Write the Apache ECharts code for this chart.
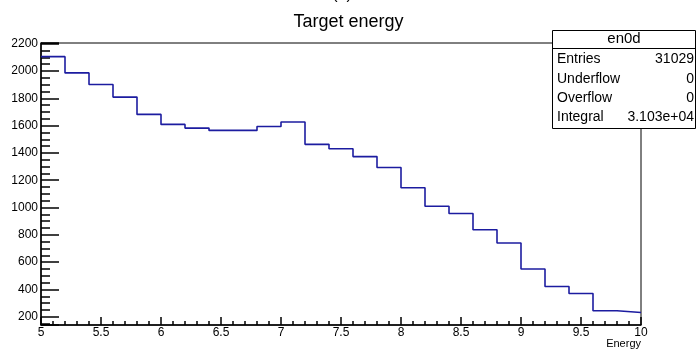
<!DOCTYPE html>
<html>
<head>
<meta charset="utf-8">
<script src="https://cdn.jsdelivr.net/npm/echarts@6/dist/echarts.min.js"></script>
<style>
  html, body { margin: 0; padding: 0; background: #fff; }
  #main { width: 697px; height: 351px; }
</style>
</head>
<body>
<div id="main"></div>
<script>
// bin edges (left edge of each 0.2 wide bin) and bin contents
var binEdges = [5.0, 5.2, 5.4, 5.6, 5.8, 6.0, 6.2, 6.4, 6.6, 6.8, 7.0, 7.2, 7.4,
                7.6, 7.8, 8.0, 8.2, 8.4, 8.6, 8.8, 9.0, 9.2, 9.4, 9.6, 9.8, 10.0];
var counts = [2105, 1986, 1901, 1809, 1682, 1609, 1582, 1565, 1565, 1594, 1626, 1463, 1431,
              1373, 1293, 1145, 1010, 957, 838, 740, 550, 422, 371, 244, 232];

var statLabels = ['Entries', 'Underflow', 'Overflow', 'Integral'];
var statValues = ['31029', '0', '0', '3.103e+04'];

// step line points: one per bin plus the closing edge
var pts = [];
for (var i = 0; i < counts.length; i++) {
  pts.push([binEdges[i], counts[i]]);
}
pts.push([binEdges[counts.length], counts[counts.length - 1]]);

var chart = echarts.init(document.getElementById('main'));

var fam = 'Liberation Sans, Arial, sans-serif';

// stat box + loose texts
var gfx = [
  { type: 'text', x: 342, y: -13,
    style: { text: '(d)', font: '16px "Liberation Sans"', fill: '#000', align: 'center' } },
  { type: 'text', x: 641, y: 344,
    style: { text: 'Energy', font: '11px "Liberation Sans"', fill: '#000', align: 'right', verticalAlign: 'middle' } },
  { type: 'rect', shape: { x: 552.5, y: 30.5, width: 143, height: 98 },
    style: { fill: '#fff', stroke: '#000', lineWidth: 1 }, z: 100 },
  { type: 'line', shape: { x1: 552.5, y1: 48.5, x2: 695.5, y2: 48.5 },
    style: { stroke: '#000', lineWidth: 1 }, z: 101 },
  { type: 'text', x: 624, y: 39, z: 101,
    style: { text: 'en0d', font: '15px "Liberation Sans"', fill: '#000', align: 'center', verticalAlign: 'middle' } }
];
var rowY = [59, 79, 98, 117];
for (var k = 0; k < statLabels.length; k++) {
  gfx.push({ type: 'text', x: 557, y: rowY[k], z: 101,
    style: { text: statLabels[k], font: '14px "Liberation Sans"', fill: '#000', verticalAlign: 'middle' } });
  gfx.push({ type: 'text', x: 694, y: rowY[k], z: 101,
    style: { text: statValues[k], font: '14px "Liberation Sans"', fill: '#000', align: 'right', verticalAlign: 'middle' } });
}

var option = {
  animation: false,
  title: {
    text: 'Target energy',
    left: 'center',
    top: 8,
    textStyle: { fontFamily: fam, fontSize: 18, fontWeight: 'normal', color: '#000' }
  },
  grid: {
    left: 41, right: 56, top: 43, bottom: 26,
    show: true, borderColor: '#000', borderWidth: 1
  },
  xAxis: {
    type: 'value',
    min: 5, max: 10, interval: 0.5,
    axisLine: { lineStyle: { color: '#000', width: 1.5 } },
    axisTick: { inside: true, length: 8, lineStyle: { color: '#000', width: 1.5 } },
    minorTick: { show: true, splitNumber: 5, length: 4, lineStyle: { color: '#000', width: 1.5 } },
    axisLabel: { fontFamily: fam, fontSize: 12, color: '#000', margin: 2 },
    splitLine: { show: false }
  },
  yAxis: {
    type: 'value',
    min: 140, max: 2205,
    splitNumber: 10,
    axisLine: { show: true, lineStyle: { color: '#000', width: 1.5 } },
    axisTick: { inside: true, length: 18, lineStyle: { color: '#000', width: 1.5 } },
    minorTick: { show: true, splitNumber: 4, length: 9, lineStyle: { color: '#000', width: 1.5 } },
    axisLabel: { fontFamily: fam, fontSize: 12, color: '#000', margin: 3,
                 showMinLabel: false, showMaxLabel: false,
                 formatter: function (v) { return v % 200 === 0 ? v : ''; } },
    splitLine: { show: false }
  },
  series: [{
    type: 'line',
    step: 'end',
    data: pts,
    symbol: 'none',
    lineStyle: { color: '#1c1ca0', width: 1.6 }
  }],
  graphic: gfx
};

chart.setOption(option);
</script>
</body>
</html>
